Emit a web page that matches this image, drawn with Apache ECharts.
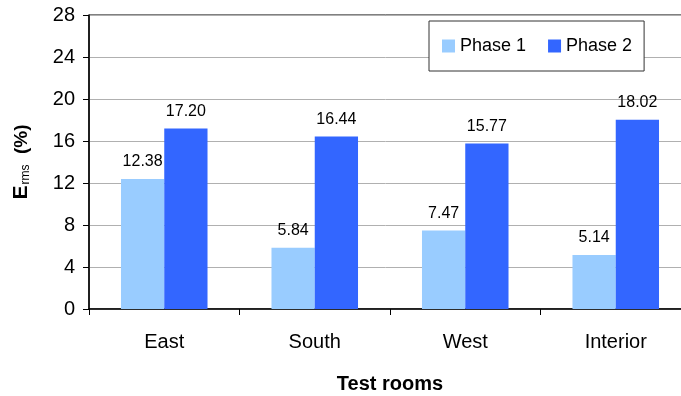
<!DOCTYPE html>
<html>
<head>
<meta charset="utf-8">
<script src="https://cdn.jsdelivr.net/npm/echarts@6/dist/echarts.min.js"></script>
<style>
html,body{margin:0;padding:0;background:#fff;}
#chart{width:681px;height:396px;}
</style>
</head>
<body>
<div id="chart"></div>
<script>
// Room categories and the two measurement phases
const rooms = ['East', 'South', 'West', 'Interior'];
const phase1 = [12.38, 5.84, 7.47, 5.14];
const phase2 = [17.20, 16.44, 15.77, 18.02];
const seriesNames = ['Phase 1', 'Phase 2'];

const FONT = '"Liberation Sans", Arial, sans-serif';
const chart = echarts.init(document.getElementById('chart'));

const labelStyle = {
  show: true,
  position: 'top',
  distance: 9,
  color: '#000',
  fontFamily: FONT,
  fontSize: 16,
  formatter: p => p.value.toFixed(2)
};

chart.setOption({
  animation: false,
  backgroundColor: '#fff',
  grid: {
    left: 89, top: 15, width: 602, height: 294,
    outerBoundsMode: 'none', containLabel: false,
    show: true, borderColor: '#000', borderWidth: 1
  },
  legend: {
    data: seriesNames,
    left: 429, top: 21,
    padding: [16, 12, 16, 13],
    itemWidth: 13, itemHeight: 13, itemGap: 22,
    borderColor: '#333', borderWidth: 1, backgroundColor: '#fff',
    textStyle: { fontFamily: FONT, fontSize: 18, color: '#000' },
    icon: 'rect'
  },
  xAxis: {
    type: 'category',
    data: rooms,
    axisLine: { lineStyle: { color: '#000', width: 1.5 } },
    axisTick: { show: true, length: 6, lineStyle: { color: '#000' } },
    axisLabel: { fontFamily: FONT, fontSize: 20, color: '#000', margin: 23 },
    name: 'Test rooms',
    nameLocation: 'middle',
    nameGap: 65,
    nameTextStyle: { fontFamily: FONT, fontSize: 20, fontWeight: 'bold', color: '#000' }
  },
  yAxis: {
    type: 'value',
    min: 0, max: 28, interval: 4,
    axisLine: { show: true, lineStyle: { color: '#000', width: 1.5 } },
    axisTick: { show: true, length: 6, inside: false, lineStyle: { color: '#000' } },
    axisLabel: { fontFamily: FONT, fontSize: 20, color: '#000', margin: 14 },
    splitLine: { lineStyle: { color: '#b0b0b0', width: 1 } },
    name: '{e|E}{s|rms}{p|  (%)}',
    nameLocation: 'middle',
    nameGap: 57,
    nameRotate: 90,
    nameTextStyle: {
      rich: {
        e: { fontFamily: FONT, fontSize: 21, fontWeight: 'bold', color: '#000' },
        s: { fontFamily: FONT, fontSize: 12, color: '#000', verticalAlign: 'bottom', padding: [6, 0, 0, 1] },
        p: { fontFamily: FONT, fontSize: 19, fontWeight: 'bold', color: '#000' }
      }
    }
  },
  series: [
    {
      name: seriesNames[0], type: 'bar', data: phase1,
      barGap: 0, barCategoryGap: '42.5%',
      itemStyle: { color: '#99ccff' },
      label: labelStyle
    },
    {
      name: seriesNames[1], type: 'bar', data: phase2,
      itemStyle: { color: '#3366ff' },
      label: labelStyle
    }
  ]
});
</script>
</body>
</html>
